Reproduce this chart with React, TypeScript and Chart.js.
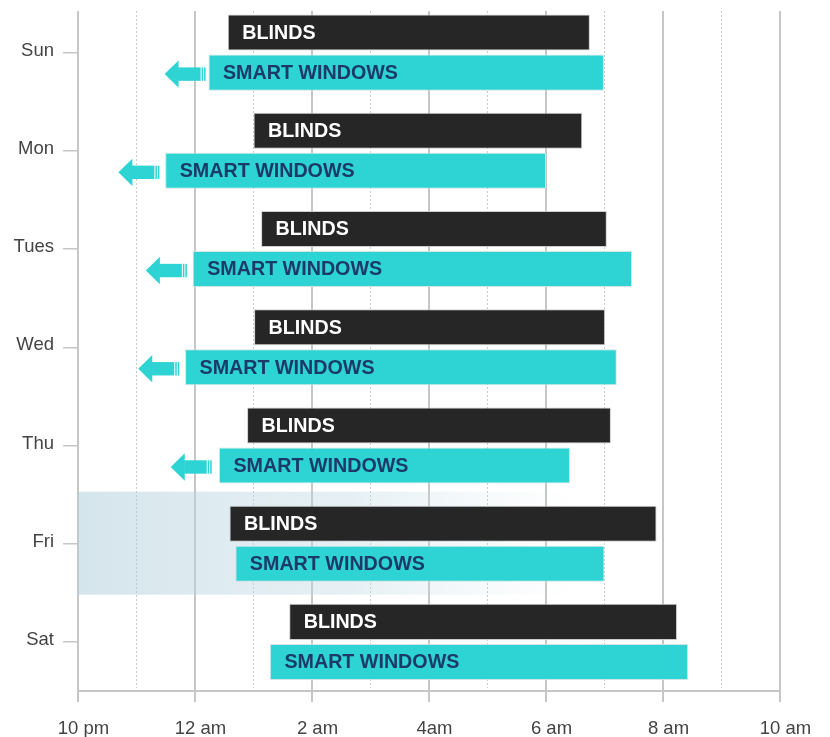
import React, { useEffect, useRef } from "react";
import { Chart, registerables } from "chart.js";

Chart.register(...registerables);

// Hours measured from 10 pm (0 = 10 pm, 12 = 10 am)
const days = ["Sun", "Mon", "Tues", "Wed", "Thu", "Fri", "Sat"];
const xTickLabels = ["10 pm", "12 am", "2 am", "4am", "6 am", "8 am", "10 am"];

const blindsStart = [2.56, 3.0, 3.13, 3.01, 2.89, 2.59, 3.61];
const blindsEnd = [8.75, 8.62, 9.04, 9.01, 9.11, 9.89, 10.24];
const windowsStart = [2.23, 1.49, 1.96, 1.83, 2.41, 2.69, 3.28];
const windowsEnd = [8.99, 8.0, 9.47, 9.21, 8.41, 9.0, 10.43];
// Arrow tips (hours) shown to the left of the smart-window bars; null = no arrow
const arrowTips: (number | null)[] = [1.48, 0.69, 1.16, 1.03, 1.585, null, null];

const highlightDay = "Fri";
const highlightEnd = 8.5;

const seriesNames = ["BLINDS", "SMART WINDOWS"];

const BLACK = "#262626";
const TEAL = "#2ED3D3";
const NAVY = "#1b3a68";
const GRID = "#c6c6c6";
const FONT = "'Liberation Sans', Arial, Helvetica, sans-serif";

const backgroundPlugin = {
  id: "bgGrid",
  beforeDatasetsDraw(chart: any) {
    const ctx = chart.ctx;
    const xs = chart.scales.x;
    const ys = chart.scales.y;
    const area = chart.chartArea;
    const top = 11;
    const bottom = area.bottom;
    ctx.save();
    for (let v = 0; v <= 12; v++) {
      const x = xs.getPixelForValue(v);
      ctx.beginPath();
      if (v % 2 === 0) {
        ctx.setLineDash([]);
        ctx.strokeStyle = GRID;
        ctx.lineWidth = 2;
        ctx.moveTo(x, top);
        ctx.lineTo(x, bottom + 11);
      } else {
        ctx.setLineDash([2, 2]);
        ctx.strokeStyle = "#cbcbcb";
        ctx.lineWidth = 1;
        ctx.moveTo(x, top);
        ctx.lineTo(x, bottom - 3);
      }
      ctx.stroke();
    }
    ctx.setLineDash([]);
    ctx.strokeStyle = GRID;
    ctx.lineWidth = 2;
    ctx.beginPath();
    ctx.moveTo(xs.left, bottom);
    ctx.lineTo(xs.right, bottom);
    ctx.stroke();

    // highlight band
    const idx = days.indexOf(highlightDay);
    if (idx >= 0) {
      const cy = ys.getPixelForValue(idx);
      const x0 = xs.getPixelForValue(0);
      const x1 = xs.getPixelForValue(highlightEnd);
      const g = ctx.createLinearGradient(x0, 0, x1, 0);
      g.addColorStop(0, "rgba(178,208,220,0.55)");
      g.addColorStop(0.55, "rgba(190,216,226,0.38)");
      g.addColorStop(1, "rgba(205,225,234,0)");
      ctx.fillStyle = g;
      ctx.fillRect(x0, cy - 52, x1 - x0, 103);
    }
    ctx.restore();
  },
};

const labelPlugin = {
  id: "barLabels",
  afterDatasetsDraw(chart: any) {
    const ctx = chart.ctx;
    const xs = chart.scales.x;
    ctx.save();
    ctx.font = `bold 19.7px ${FONT}`;
    ctx.textBaseline = "middle";
    ctx.textAlign = "left";
    chart.data.datasets.forEach((ds: any, di: number) => {
      const meta = chart.getDatasetMeta(di);
      meta.data.forEach((el: any, i: number) => {
        const p = el.getProps(["x", "base", "y", "height"], true);
        const left = Math.min(p.x, p.base);
        ctx.fillStyle = di === 0 ? "#ffffff" : NAVY;
        ctx.fillText(ds.label, left + 14.5, p.y + 1);
        if (di === 1 && arrowTips[i] != null) {
          const tip = xs.getPixelForValue(arrowTips[i] as number);
          const cy = p.y + 1.5;
          ctx.fillStyle = TEAL;
          ctx.beginPath();
          ctx.moveTo(tip, cy);
          ctx.lineTo(tip + 14, cy - 13.7);
          ctx.lineTo(tip + 14, cy + 13.7);
          ctx.closePath();
          ctx.fill();
          ctx.fillRect(tip + 13.5, cy - 6.7, 22.5, 13.4);
          ctx.fillRect(tip + 37, cy - 6.7, 1.5, 13.4);
          ctx.fillRect(tip + 39.5, cy - 6.7, 1.5, 13.4);
        }
      });
    });
    ctx.restore();
  },
};

export default function App() {
  const ref = useRef<HTMLCanvasElement | null>(null);
  useEffect(() => {
    document.body.style.margin = "0";
    if (!ref.current) return;
    const chart = new Chart(ref.current, {
      type: "bar",
      data: {
        labels: days,
        datasets: [
          {
            label: seriesNames[0],
            data: blindsStart.map((s, i) => [s, blindsEnd[i]]) as any,
            backgroundColor: BLACK,
            borderColor: "rgba(200,200,200,0.9)",
            borderWidth: 1,
            borderSkipped: false,
            categoryPercentage: 0.815,
            barPercentage: 0.9,
          },
          {
            label: seriesNames[1],
            data: windowsStart.map((s, i) => [s, windowsEnd[i]]) as any,
            backgroundColor: TEAL,
            borderColor: "rgba(205,225,225,0.9)",
            borderWidth: 1,
            borderSkipped: false,
            categoryPercentage: 0.815,
            barPercentage: 0.9,
          },
        ],
      },
      options: {
        indexAxis: "y",
        responsive: false,
        animation: false,
        layout: { padding: { top: 3.5, right: 50, left: 0, bottom: 0 } },
        plugins: { legend: { display: false }, tooltip: { enabled: false } },
        scales: {
          x: {
            type: "linear",
            min: 0,
            max: 12,
            afterFit(s: any) {
              s.height = 46;
              s.paddingLeft = 0;
              s.paddingRight = 0;
            },
            grid: { display: false, drawTicks: false },
            border: { display: false },
            ticks: {
              stepSize: 2,
              autoSkip: false,
              maxRotation: 0,
              callback: (v: any) => xTickLabels[Math.round(Number(v) / 2)],
              font: { family: FONT, size: 18.5 },
              color: "#444444",
              padding: 27,
              labelOffset: 5.5,
            },
          },
          y: {
            type: "category",
            afterFit(s: any) {
              s.width = 78;
              s.paddingTop = 0;
              s.paddingBottom = 0;
            },
            grid: {
              display: true,
              drawOnChartArea: false,
              drawTicks: true,
              tickLength: 15,
              offset: false,
              color: GRID,
              lineWidth: 1.5,
            },
            border: { display: false },
            ticks: {
              font: { family: FONT, size: 18.5 },
              color: "#444444",
              padding: 9,
              labelOffset: -2,
            },
          },
        },
      } as any,
      plugins: [backgroundPlugin, labelPlugin],
    });
    return () => chart.destroy();
  }, []);
  return (
    <div style={{ width: 830, height: 737 }}>
      <canvas ref={ref} width={830} height={737} style={{ width: 830, height: 737, display: "block" }} />
    </div>
  );
}
